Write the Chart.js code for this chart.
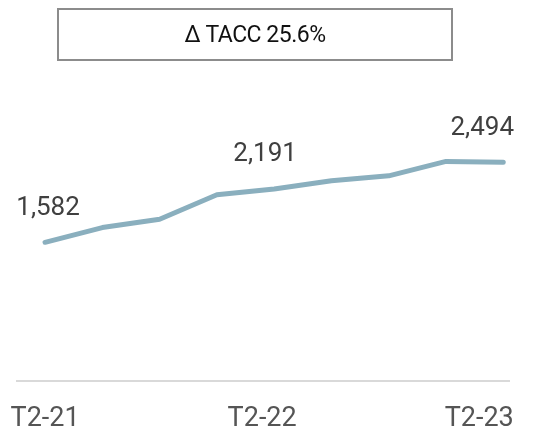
<!DOCTYPE html>
<html>
<head>
<meta charset="utf-8">
<script src="https://cdn.jsdelivr.net/npm/chart.js@4.4.1/dist/chart.umd.min.js"></script>
<style>
  html, body { margin: 0; padding: 0; background: #fff; }
  #wrap { position: relative; width: 547px; height: 430px; }
  #tacc {
    position: absolute; left: 57px; top: 8px; width: 392px; height: 49px;
    border: 2px solid #8c8c8c; box-sizing: content-box;
    font-family: Roboto, "Liberation Sans", sans-serif; font-size: 23px;
    color: #111; letter-spacing: -0.5px;
    display: flex; align-items: center; justify-content: center;
  }
</style>
</head>
<body>
<div id="wrap">
  <canvas id="chart" width="547" height="430"></canvas>
  <div id="tacc">Δ TACC 25.6%</div>
</div>
<script>
// quarters T2-21 .. T2-23
const quarters = ['T2-21', 'T3-21', 'T4-21', 'T1-22', 'T2-22', 'T3-22', 'T4-22', 'T1-23', 'T2-23'];
const values = [1582, 1750, 1845, 2125, 2191, 2285, 2340, 2505, 2494];
const shownQuarters = ['T2-21', 'T2-22', 'T2-23'];
const labelPos = [0, 3.79, 7.58]; // where the axis labels sit along the x scale

document.addEventListener("DOMContentLoaded", function() {
    createChart();
});

// draws the three value labels above the line, lined up with the axis labels
const valueLabels = {
    id: 'valueLabels',
    afterDatasetsDraw(chart) {
        const ctx = chart.ctx;
        const xs = chart.scales.x, ys = chart.scales.y;
        ctx.save();
        ctx.font = '26px Roboto, "Liberation Sans", sans-serif';
        ctx.fillStyle = '#404040';
        ctx.textAlign = 'center';
        ctx.textBaseline = 'middle';
        shownQuarters.forEach((q, k) => {
            const i = quarters.indexOf(q);
            const v = values[i];
            ctx.fillText(v.toLocaleString('en-US'), xs.getPixelForValue(labelPos[k]) + 3, ys.getPixelForValue(v) - 34);
        });
        ctx.restore();
    }
};

function createChart() {
    const ctx = document.getElementById('chart').getContext('2d');
    new Chart(ctx, {
        type: 'line',
        data: {
            datasets: [{
                data: values.map((v, i) => ({ x: i, y: v })),
                borderColor: '#8aafbe',
                borderWidth: 5,
                borderCapStyle: 'round',
                borderJoinStyle: 'round',
                pointRadius: 0,
                tension: 0
            }]
        },
        options: {
            responsive: false,
            animation: false,
            layout: { padding: { left: 17, right: 38, top: 118, bottom: 0 } },
            plugins: { legend: { display: false }, tooltip: { enabled: false } },
            scales: {
                x: {
                    type: 'linear',
                    min: -0.49,
                    max: 8.1,
                    afterBuildTicks: scale => {
                        scale.ticks = labelPos.map(v => ({ value: v }));
                    },
                    afterFit: scale => {
                        scale.height = 49;
                        scale.paddingLeft = 0;
                        scale.paddingRight = 0;
                    },
                    grid: { display: false, drawTicks: false },
                    border: { display: true, color: '#d9d9d9', width: 2 },
                    ticks: {
                        padding: 22,
                        maxRotation: 0,
                        autoSkip: false,
                        color: '#555555',
                        font: { family: 'Roboto, "Liberation Sans", sans-serif', size: 27 },
                        callback: value => shownQuarters[labelPos.indexOf(value)]
                    }
                },
                y: {
                    display: false,
                    min: 0,
                    max: 3000
                }
            }
        },
        plugins: [valueLabels]
    });
}
</script>
</body>
</html>
